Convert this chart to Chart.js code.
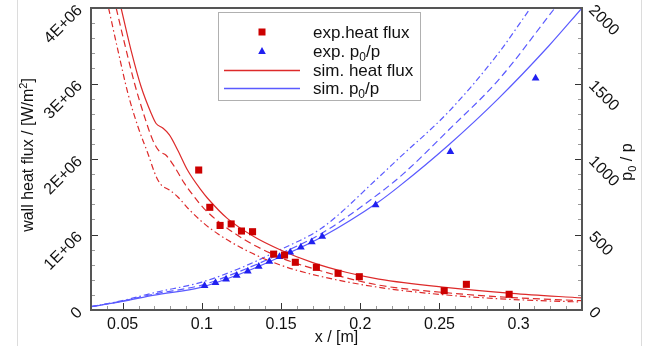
<!DOCTYPE html>
<html>
<head>
<meta charset="utf-8">
<script src="https://cdn.jsdelivr.net/npm/chart.js@4.4.1/dist/chart.umd.min.js"></script>
<style>
html, body { margin: 0; padding: 0; background: #fff; }
</style>
</head>
<body>
<canvas id="c" width="647" height="346"></canvas>
<script>
var heatExpX = [0.098, 0.105, 0.1115, 0.1185, 0.125, 0.132, 0.1453, 0.1522, 0.159, 0.1723, 0.186, 0.1994, 0.253, 0.267, 0.294];
var heatExpY = [1.854e6, 1.36e6, 1.12e6, 1.14e6, 1.046e6, 1.037e6, 0.74e6, 0.728e6, 0.632e6, 0.565e6, 0.486e6, 0.441e6, 0.256e6, 0.34e6, 0.208e6];

var pExpX = [0.1017, 0.1086, 0.1153, 0.122, 0.129, 0.1359, 0.1426, 0.149, 0.1558, 0.1625, 0.1694, 0.176, 0.2097, 0.2569, 0.3107];
var pExpY = [160, 180, 203, 228, 256, 288, 322, 352, 383, 415, 450, 487, 695, 1048, 1534];

// simulated heat flux, three variants (solid, dashed, dash-dot)
var heatSolidX = [0.049, 0.0553, 0.0616, 0.0679, 0.0711, 0.0753, 0.0795, 0.0847, 0.091, 0.0994, 0.1036, 0.1162, 0.133, 0.1497, 0.17, 0.191, 0.2117, 0.2537, 0.2957, 0.34];
var heatSolidY = [4.0e6, 3.44e6, 2.96e6, 2.61e6, 2.47e6, 2.41e6, 2.32e6, 2.12e6, 1.85e6, 1.59e6, 1.48e6, 1.21e6, 0.97e6, 0.795e6, 0.627e6, 0.50e6, 0.41e6, 0.30e6, 0.22e6, 0.16e6];

var heatDashX = [0.0459, 0.0512, 0.0575, 0.0638, 0.069, 0.0732, 0.0774, 0.0826, 0.0889, 0.0952, 0.1015, 0.1225, 0.149, 0.17, 0.2117, 0.2537, 0.2957, 0.34];
var heatDashY = [4.0e6, 3.53e6, 3.0e6, 2.56e6, 2.25e6, 2.10e6, 2.05e6, 1.90e6, 1.68e6, 1.50e6, 1.34e6, 0.99e6, 0.70e6, 0.55e6, 0.33e6, 0.23e6, 0.165e6, 0.123e6];

var heatDotX = [0.0411, 0.047, 0.0533, 0.0596, 0.0658, 0.0711, 0.0742, 0.0795, 0.0847, 0.092, 0.1, 0.11, 0.128, 0.149, 0.17, 0.2117, 0.2537, 0.2957, 0.34];
var heatDotY = [4.0e6, 3.44e6, 2.87e6, 2.43e6, 2.08e6, 1.77e6, 1.66e6, 1.59e6, 1.50e6, 1.33e6, 1.17e6, 1.01e6, 0.79e6, 0.60e6, 0.47e6, 0.30e6, 0.20e6, 0.14e6, 0.105e6];

// simulated p0/p, three variants
var pSolidX = [0.03, 0.049, 0.07, 0.0994, 0.1225, 0.1497, 0.176, 0.2117, 0.2243, 0.2558, 0.2872, 0.3187, 0.34];
var pSolidY = [22, 55, 99, 150, 232, 353, 485, 717, 817, 1093, 1400, 1745, 2000];

var pDashX = [0.03, 0.049, 0.07, 0.1, 0.1225, 0.149, 0.176, 0.2117, 0.2275, 0.2558, 0.2872, 0.3229];
var pDashY = [22, 58, 106, 165, 250, 370, 510, 770, 905, 1192, 1523, 2000];

var pDotX = [0.03, 0.049, 0.07, 0.1, 0.1225, 0.149, 0.176, 0.2117, 0.2243, 0.2558, 0.2872, 0.3075];
var pDotY = [22, 60, 115, 185, 270, 397, 545, 880, 1004, 1313, 1700, 2000];

var xTickVals = [0.05, 0.1, 0.15, 0.2, 0.25, 0.3];
var heatTickVals = [0, 1e6, 2e6, 3e6, 4e6];
var heatTickLabels = ['0', '1E+06', '2E+06', '3E+06', '4E+06'];
var pTickVals = [0, 500, 1000, 1500, 2000];

var RED = '#cc0000', RED_LINE = '#dd2a2a', BLUE = '#2020f0', BLUE_LINE = '#5a5aff';
var FONT = '"Liberation Sans", Arial, sans-serif';

function pts(xs, ys) {
  return xs.map(function (x, i) { return { x: x, y: ys[i] }; });
}

function simLine(xs, ys, color, axis, dash) {
  return {
    data: pts(xs, ys), yAxisID: axis, showLine: true, pointRadius: 0,
    borderColor: color, borderWidth: 1.2, borderDash: dash,
    cubicInterpolationMode: 'monotone', fill: false
  };
}

function drawParts(ctx, parts, x, y) {
  var cx = x;
  parts.forEach(function (p) {
    ctx.font = p.f;
    ctx.fillText(p.t, cx, y + (p.dy || 0));
    cx += ctx.measureText(p.t).width;
  });
}
function partsWidth(ctx, parts) {
  var w = 0;
  parts.forEach(function (p) { ctx.font = p.f; w += ctx.measureText(p.t).width; });
  return w;
}

var decor = {
  id: 'decor',
  afterDatasetsDraw: function (chart) {
    var ctx = chart.ctx, a = chart.chartArea;
    var sx = chart.scales.x, sl = chart.scales.yHeat, sr = chart.scales.yP;
    ctx.save();
    ctx.lineWidth = 1;
    function seg(x1, y1, x2, y2, col) {
      ctx.strokeStyle = col;
      ctx.beginPath(); ctx.moveTo(x1, y1); ctx.lineTo(x2, y2); ctx.stroke();
    }
    var k, p, major;
    for (k = 4; k <= 33; k++) {
      p = Math.round(sx.getPixelForValue(k / 100)) + 0.5;
      major = k % 5 === 0;
      seg(p, a.bottom, p, a.bottom - (major ? 7 : 4), major ? '#333' : '#999');
    }
    for (k = 1; k < 20; k++) {
      major = k % 5 === 0;
      p = Math.round(sl.getPixelForValue(k * 2e5)) + 0.5;
      seg(a.left, p, a.left + (major ? 7 : 4), p, major ? '#333' : '#999');
      p = Math.round(sr.getPixelForValue(k * 100)) + 0.5;
      seg(a.right, p, a.right - (major ? 7 : 4), p, major ? '#333' : '#999');
    }
    ctx.lineWidth = 2;
    ctx.strokeStyle = '#555';
    ctx.strokeRect(a.left, a.top, a.right - a.left, a.bottom - a.top);
    ctx.restore();
  },
  afterDraw: function (chart) {
    var ctx = chart.ctx, a = chart.chartArea;
    ctx.save();
    // faint page edges
    ctx.strokeStyle = '#dcdcdc'; ctx.lineWidth = 1;
    ctx.beginPath(); ctx.moveTo(17.5, 0); ctx.lineTo(17.5, 346); ctx.moveTo(641.5, 0); ctx.lineTo(641.5, 346); ctx.stroke();

    // axis titles
    ctx.fillStyle = '#111';
    ctx.textBaseline = 'alphabetic';
    var f16 = '16px ' + FONT, f11 = '11px ' + FONT;
    ctx.font = f16;
    ctx.textAlign = 'left';
    var xt = [{ t: 'x / [m]', f: f16 }];
    drawParts(ctx, xt, (a.left + a.right) / 2 - partsWidth(ctx, xt) / 2, 342);

    var lt = [{ t: 'wall heat flux / [W/m', f: f16 }, { t: '2', f: f11, dy: -6 }, { t: ']', f: f16 }];
    ctx.save();
    ctx.translate(33, 155); ctx.rotate(-Math.PI / 2);
    drawParts(ctx, lt, -partsWidth(ctx, lt) / 2, 0);
    ctx.restore();

    var rt = [{ t: 'p', f: f16 }, { t: '0', f: f11, dy: 4 }, { t: ' / p', f: f16 }];
    ctx.save();
    ctx.translate(632, 162); ctx.rotate(-Math.PI / 2);
    drawParts(ctx, rt, -partsWidth(ctx, rt) / 2, 0);
    ctx.restore();

    // legend
    ctx.fillStyle = '#fff';
    ctx.fillRect(218.5, 12.5, 202, 88);
    ctx.strokeStyle = '#b0b0b0'; ctx.lineWidth = 1;
    ctx.strokeRect(218.5, 12.5, 202, 88);
    var f17 = '17px ' + FONT, f12 = '12px ' + FONT;
    var rows = [32, 51, 70, 88];
    ctx.fillStyle = RED;
    ctx.fillRect(258.5, 28.5, 7, 7);
    ctx.fillStyle = BLUE;
    ctx.beginPath(); ctx.moveTo(262, 47); ctx.lineTo(265.8, 54); ctx.lineTo(258.2, 54); ctx.closePath(); ctx.fill();
    ctx.lineWidth = 1.3;
    ctx.strokeStyle = RED_LINE;
    ctx.beginPath(); ctx.moveTo(224, 70.5); ctx.lineTo(300, 70.5); ctx.stroke();
    ctx.strokeStyle = BLUE_LINE;
    ctx.beginPath(); ctx.moveTo(224, 88.5); ctx.lineTo(300, 88.5); ctx.stroke();
    ctx.fillStyle = '#111';
    drawParts(ctx, [{ t: 'exp.heat flux', f: f17 }], 313, rows[0] + 6);
    drawParts(ctx, [{ t: 'exp. p', f: f17 }, { t: '0', f: f12, dy: 4 }, { t: '/p', f: f17 }], 313, rows[1] + 6);
    drawParts(ctx, [{ t: 'sim. heat flux', f: f17 }], 313, rows[2] + 6);
    drawParts(ctx, [{ t: 'sim. p', f: f17 }, { t: '0', f: f12, dy: 4 }, { t: '/p', f: f17 }], 313, rows[3] + 6);
    ctx.restore();
  }
};

function fixTicks(vals) {
  return function (scale) { scale.ticks = vals.map(function (v) { return { value: v }; }); };
}
function fixSize(prop, size) {
  return function (scale) {
    scale[prop] = size;
    scale.paddingTop = 0; scale.paddingBottom = 0; scale.paddingLeft = 0; scale.paddingRight = 0;
  };
}

new Chart(document.getElementById('c'), {
  type: 'scatter',
  data: {
    datasets: [
      { data: pts(heatExpX, heatExpY), yAxisID: 'yHeat', pointStyle: 'rect', pointRadius: 5, backgroundColor: RED, borderColor: RED, borderWidth: 0 },
      { data: pts(pExpX, pExpY), yAxisID: 'yP', pointStyle: 'triangle', pointRadius: 4.5, backgroundColor: BLUE, borderColor: BLUE, borderWidth: 0 },
      simLine(heatSolidX, heatSolidY, RED_LINE, 'yHeat', []),
      simLine(heatDashX, heatDashY, RED_LINE, 'yHeat', [7, 4]),
      simLine(heatDotX, heatDotY, RED_LINE, 'yHeat', [6, 3, 1.5, 3]),
      simLine(pSolidX, pSolidY, BLUE_LINE, 'yP', []),
      simLine(pDashX, pDashY, BLUE_LINE, 'yP', [7, 4]),
      simLine(pDotX, pDotY, BLUE_LINE, 'yP', [6, 3, 1.5, 3])
    ]
  },
  options: {
    responsive: false,
    animation: false,
    layout: { padding: { top: 8, left: 0, right: 0, bottom: 0 } },
    plugins: { legend: { display: false }, tooltip: { enabled: false } },
    scales: {
      x: {
        type: 'linear', min: 0.03, max: 0.34,
        afterBuildTicks: fixTicks(xTickVals),
        afterFit: fixSize('height', 36),
        grid: { display: false }, border: { display: false },
        ticks: { color: '#111', font: { family: FONT, size: 16 }, padding: -3, callback: function (v) { return String(v); } }
      },
      yHeat: {
        type: 'linear', position: 'left', min: 0, max: 4e6,
        afterBuildTicks: fixTicks(heatTickVals),
        afterFit: fixSize('width', 91),
        grid: { display: false }, border: { display: false },
        ticks: { color: '#111', font: { family: FONT, size: 16 }, padding: 3, minRotation: 45, maxRotation: 45,
          callback: function (v) { return heatTickLabels[heatTickVals.indexOf(v)]; } }
      },
      yP: {
        type: 'linear', position: 'right', min: 0, max: 2000,
        afterBuildTicks: fixTicks(pTickVals),
        afterFit: fixSize('width', 65),
        grid: { display: false }, border: { display: false },
        ticks: { color: '#111', font: { family: FONT, size: 16 }, padding: 1, minRotation: -45, maxRotation: -45,
          callback: function (v) { return String(v); } }
      }
    }
  },
  plugins: [decor]
});
</script>
</body>
</html>
